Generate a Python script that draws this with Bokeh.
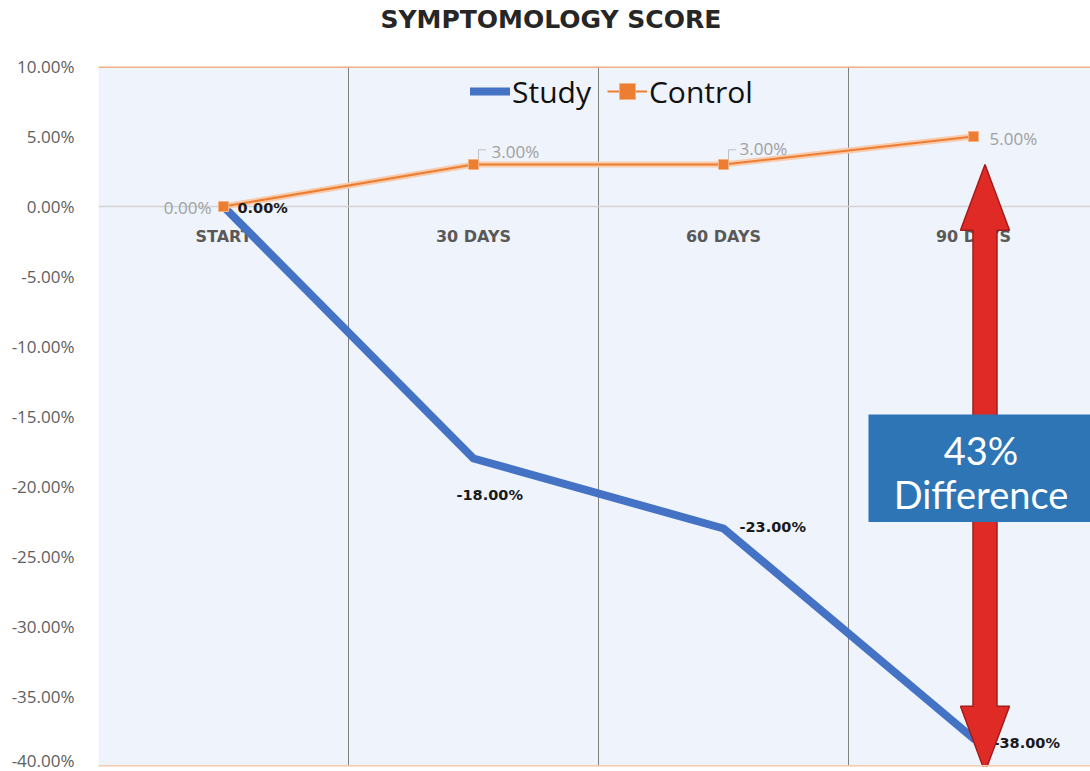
from bokeh.plotting import figure
from bokeh.models import Range1d, FixedTicker, Span, Legend, LegendItem, Title
from bokeh.core.properties import value
from bokeh.embed import file_html
from bokeh.resources import INLINE

# ---- data ----
categories = ["START", "30 DAYS", "60 DAYS", "90 DAYS"]
study = [0.0, -18.0, -23.0, -38.0]
control = [0.0, 3.0, 3.0, 5.0]
y_ticks = [-40, -35, -30, -25, -20, -15, -10, -5, 0, 5, 10]
y_tick_labels = ["-40.00%", "-35.00%", "-30.00%", "-25.00%", "-20.00%", "-15.00%",
                 "-10.00%", "-5.00%", "0.00%", "5.00%", "10.00%"]
title_text = "SYMPTOMOLOGY SCORE"
diff_lines = ["43%", "Difference"]

xs = list(range(len(categories)))
study_labels = [f"{v:.2f}%" for v in study]
control_labels = [f"{v:.2f}%" for v in control]

# ---- figure ----
W, H = 1090, 771
BL, BT, BB = 98, 66, 5
p = figure(width=W, height=H, x_range=Range1d(-0.5, -0.5 + (W - BL) / 250.0),
           y_range=Range1d(y_ticks[0], y_ticks[-1]), title=title_text,
           output_backend="svg", toolbar_location=None,
           min_border_left=BL, min_border_right=0, min_border_top=BT, min_border_bottom=BB,
           background_fill_color="#eff3fb", border_fill_color="white", outline_line_color=None)

p.title.align = "left"
p.title.offset = 282
p.title.standoff = 0
p.title.vertical_align = "bottom"
p.title.text_font = "DejaVu Sans"
p.title.text_font_style = "bold"
p.title.text_font_size = "25px"
p.title.text_color = "#262626"
# blank spacer panel between title and plot frame
p.add_layout(Title(text=" ", text_font_size="1px", standoff=30), "above")

p.xaxis.visible = False
p.yaxis.ticker = FixedTicker(ticks=y_ticks)
p.yaxis.major_label_overrides = {t: l for t, l in zip(y_ticks, y_tick_labels)}
p.yaxis.axis_line_color = None
p.yaxis.major_tick_line_color = None
p.yaxis.minor_tick_line_color = None
p.yaxis.major_label_standoff = 18
p.yaxis.major_label_text_font = "Open Sans"
p.yaxis.major_label_text_font_size = "17px"
p.yaxis.major_label_text_color = "#606060"

p.xgrid.ticker = FixedTicker(ticks=[x + 0.5 for x in xs[:-1]])
p.xgrid.grid_line_color = "#7f7f7f"
p.xgrid.grid_line_width = 1
p.ygrid.ticker = FixedTicker(ticks=[0])
p.ygrid.grid_line_color = "#d3d3d3"
p.ygrid.grid_line_width = 1.5

p.add_layout(Span(location=y_ticks[-1], dimension="width", line_color="#f4b183", line_width=3))
p.add_layout(Span(location=y_ticks[0], dimension="width", line_color="#f8cbad", line_width=3))

# category labels inside the plot, just below zero line
p.text(xs, [0] * len(xs), text=categories, y_offset=30, text_align="center",
       text_baseline="middle", text_font=value("DejaVu Sans"), text_font_style="bold",
       text_font_size="16px", text_color="#595959")

# study line
r_study = p.line(xs, study, line_color="#4472c4", line_width=8, line_cap="round", line_join="round")

# control line
p.line(xs, control, line_color="#f8cbad", line_width=6)
r_ctrl = p.line(xs, control, line_color="#ed7d31", line_width=2)
r_ctrl_m = p.scatter(xs, control, marker="square", size=10, fill_color="#ed7d31", line_color="#f4b183")

# leader lines for middle control labels
lx, ly = [], []
for i in (1, 2):
    lx.append([xs[i] + 0.02, xs[i] + 0.02, xs[i] + 0.05])
    ly.append([control[i] + 0.4, control[i] + 1.05, control[i] + 1.05])
p.multi_line(lx, ly, line_color="#bfbfbf", line_width=1)

# data labels
s_dx = [14, -17, 16, 20]
s_dy = [1, 36, -2, 4]
for i in xs:
    p.text([xs[i]], [study[i]], text=[study_labels[i]], x_offset=s_dx[i], y_offset=s_dy[i],
           text_align="left", text_baseline="middle", text_font=value("DejaVu Sans"),
           text_font_style="bold", text_font_size="14.5px", text_color="#1a1a1a")

c_dx = [-12, 18, 16, 16]
c_dy = [1, -13, -16, 2]
c_al = ["right", "left", "left", "left"]
for i in xs:
    p.text([xs[i]], [control[i]], text=[control_labels[i]], x_offset=c_dx[i], y_offset=c_dy[i],
           text_align=c_al[i], text_baseline="middle", text_font=value("Open Sans"),
           text_font_size="17px", text_color="#a0a0a0")

# red double arrow between control and study at 90 days
cx = xs[3] + 0.046
top = control[3] - 2.0
bot = study[3] - 2.4
hl = 4.7
hw = 0.098
sw = 0.048
ax = [cx, cx + hw, cx + sw, cx + sw, cx + hw, cx, cx - hw, cx - sw, cx - sw, cx - hw]
ay = [top, top - hl, top - hl, bot + hl, bot + hl, bot, bot + hl, bot + hl, top - hl, top - hl]
p.patch(ax, ay, fill_color="#e02a26", line_color="#a41c1a", line_width=1.5)

# blue difference box
p.quad(left=[xs[3] - 0.42], right=[xs[3] + 0.6], top=[-14.86], bottom=[-22.54],
       fill_color="#2e75b6", line_color=None)
p.text([xs[3] + 0.03], [-17.4], text=[diff_lines[0]], text_align="center", text_baseline="middle",
       text_font=value("Lato"), text_font_size="38px", text_color="white")
p.text([xs[3] + 0.03], [-20.5], text=[diff_lines[1]], text_align="center", text_baseline="middle",
       text_font=value("Lato"), text_font_size="38px", text_color="white")

# legend
legend = Legend(items=[LegendItem(label="Study", renderers=[r_study]),
                       LegendItem(label="Control", renderers=[r_ctrl, r_ctrl_m])],
                orientation="horizontal", location=(372, 654),
                background_fill_alpha=0, border_line_color=None,
                label_text_font="Open Sans", label_text_font_size="30px", label_text_color="#111111",
                glyph_width=40, glyph_height=42, label_standoff=2, spacing=16,
                padding=0, margin=0, label_height=42)
p.add_layout(legend)

open("out.html", "w").write(file_html(p, INLINE))
